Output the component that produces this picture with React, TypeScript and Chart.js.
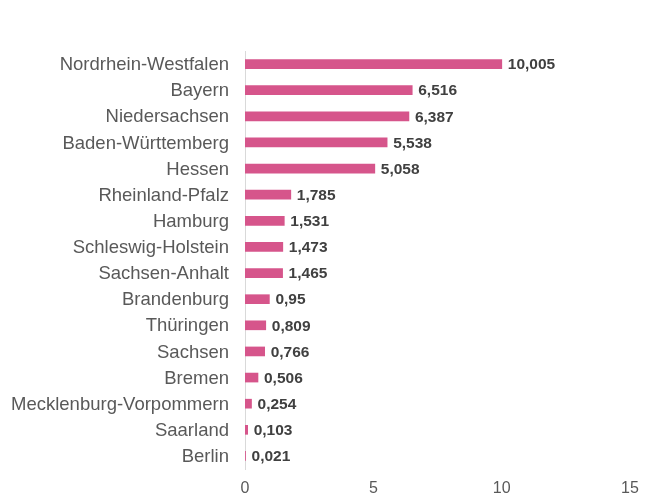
import React, { useEffect, useRef } from "react";
import { Chart, registerables } from "chart.js";

Chart.register(...registerables);

const states = [
  "Nordrhein-Westfalen",
  "Bayern",
  "Niedersachsen",
  "Baden-Württemberg",
  "Hessen",
  "Rheinland-Pfalz",
  "Hamburg",
  "Schleswig-Holstein",
  "Sachsen-Anhalt",
  "Brandenburg",
  "Thüringen",
  "Sachsen",
  "Bremen",
  "Mecklenburg-Vorpommern",
  "Saarland",
  "Berlin",
];
const values = [10.005, 6.516, 6.387, 5.538, 5.058, 1.785, 1.531, 1.473, 1.465, 0.95, 0.809, 0.766, 0.506, 0.254, 0.103, 0.021];
const xTicks = [0, 5, 10, 15];

const FONT = "'Liberation Sans', Arial, sans-serif";

const valueLabels = {
  id: "valueLabels",
  afterDatasetsDraw(chart: any) {
    const ctx = chart.ctx;
    const meta = chart.getDatasetMeta(0);
    ctx.save();
    ctx.font = `bold 15.5px ${FONT}`;
    ctx.fillStyle = "#404040";
    ctx.textAlign = "left";
    ctx.textBaseline = "middle";
    meta.data.forEach((bar: any, i: number) => {
      const txt = String(values[i]).replace(".", ",");
      ctx.fillText(txt, bar.x + 6, bar.y + 1);
    });
    ctx.restore();
  },
};

export default function App() {
  const ref = useRef<HTMLCanvasElement>(null);
  useEffect(() => {
    document.body.style.margin = "0";
    const chart = new Chart(ref.current!, {
      type: "bar",
      data: {
        labels: states,
        datasets: [
          {
            data: values,
            backgroundColor: "#d6558b",
            barThickness: 9,
          },
        ],
      },
      options: {
        indexAxis: "y",
        animation: false,
        responsive: false,
        maintainAspectRatio: false,
        layout: { padding: { top: 51, right: 20, bottom: 0, left: 0 } },
        plugins: { legend: { display: false }, tooltip: { enabled: false } },
        scales: {
          x: {
            min: 0,
            max: 15,
            afterBuildTicks: (s: any) => {
              s.ticks = xTicks.map((v) => ({ value: v }));
            },
            afterFit: (s: any) => {
              s.height = 31;
            },
            grid: { display: false },
            border: { display: false },
            ticks: { color: "#595959", font: { family: FONT, size: 16 }, padding: 2 },
          },
          y: {
            afterFit: (s: any) => {
              s.width = 245;
            },
            grid: { display: false },
            border: { display: true, color: "#d9d9d9", width: 1 },
            ticks: { color: "#595959", font: { family: FONT, size: 18.5 }, padding: 8, labelOffset: 1 },
          },
        },
      },
      plugins: [valueLabels],
    });
    return () => chart.destroy();
  }, []);
  return <canvas ref={ref} width={650} height={500} style={{ display: "block" }} />;
}
